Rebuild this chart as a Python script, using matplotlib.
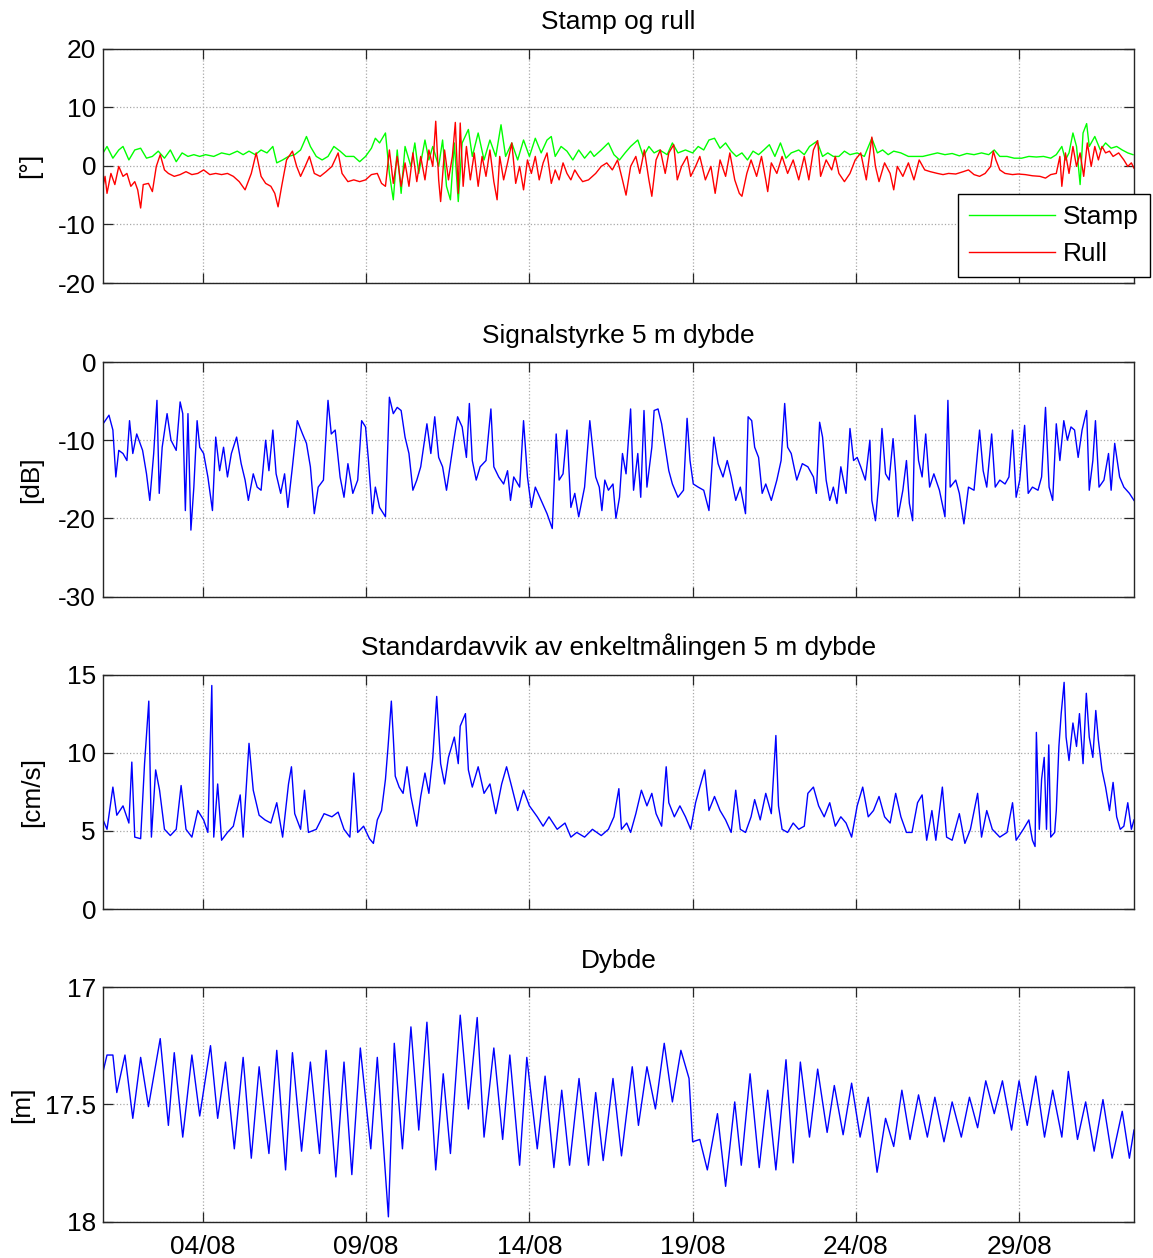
import matplotlib
matplotlib.use("Agg")
import matplotlib.pyplot as plt
from matplotlib.ticker import FormatStrFormatter

plt.rcParams['font.family'] = ['Liberation Sans', 'DejaVu Sans']
FS = 18.9

# Time axis in day-of-August
x_start, x_end = 0.936, 32.52
xtick_days = [4, 9, 14, 19, 24, 29]
xtick_labels = ["04/08", "09/08", "14/08", "19/08", "24/08", "29/08"]

# Pitch (stamp) and roll (rull), degrees: (day, value)
stamp = [
    (0.94, 2.2), (1.06, 3.3), (1.24, 1.3), (1.42, 2.7), (1.55, 3.3), (1.73, 1.0), (1.91, 2.7), (2.09, 3.0),
    (2.27, 1.3), (2.45, 1.6), (2.63, 2.5), (2.82, 1.3), (3.00, 2.7), (3.18, 0.7), (3.36, 2.2), (3.54, 1.6),
    (3.72, 1.9), (3.90, 1.6), (4.08, 1.9), (4.33, 1.6), (4.57, 2.2), (4.81, 1.9), (5.05, 2.5), (5.23, 1.9),
    (5.41, 2.5), (5.60, 1.9), (5.78, 2.7), (5.96, 2.2), (6.14, 3.3), (6.26, 0.5), (6.44, 1.0), (6.62, 1.6),
    (6.81, 1.9), (6.99, 2.7), (7.17, 5.0), (7.29, 3.3), (7.47, 1.6), (7.65, 1.0), (7.83, 1.6), (8.01, 3.3),
    (8.20, 2.5), (8.38, 1.6), (8.62, 1.6), (8.80, 0.7), (8.98, 1.6), (9.16, 3.0), (9.28, 4.7), (9.41, 3.9),
    (9.59, 5.6), (9.71, -1.3), (9.83, -5.8), (9.95, 2.7), (10.07, -4.7), (10.19, 3.3), (10.37, -0.1),
    (10.49, 3.9), (10.61, -1.3), (10.80, 4.4), (10.92, 1.0), (11.04, 3.3), (11.22, -0.1), (11.34, 4.4),
    (11.46, -3.5), (11.58, -5.8), (11.70, 3.9), (11.82, -6.1), (11.94, 3.9), (12.13, 6.2), (12.25, 1.6),
    (12.43, 5.6), (12.61, 1.0), (12.79, 4.4), (12.97, 1.6), (13.13, 7.0), (13.27, 1.6), (13.46, 3.9),
    (13.64, 1.0), (13.82, 4.4), (14.00, 1.6), (14.18, 4.7), (14.36, 2.2), (14.54, 4.4), (14.67, 5.0),
    (14.79, 1.6), (14.97, 3.3), (15.15, 2.5), (15.33, 1.0), (15.51, 2.7), (15.69, 1.3), (15.87, 2.5),
    (15.98, 1.6), (16.20, 2.7), (16.42, 3.9), (16.59, 1.9), (16.76, 1.0), (16.93, 2.2), (17.10, 3.3),
    (17.32, 4.4), (17.49, 1.6), (17.66, 3.3), (17.82, 2.2), (17.99, 2.7), (18.22, 1.9), (18.38, 3.9),
    (18.55, 2.2), (18.78, 2.7), (19.00, 2.2), (19.17, 3.3), (19.34, 2.7), (19.50, 4.4), (19.67, 4.7),
    (19.84, 3.0), (20.01, 3.9), (20.18, 2.5), (20.34, 1.6), (20.51, 2.2), (20.68, 1.0), (20.85, 2.5),
    (21.02, 1.9), (21.18, 2.7), (21.35, 3.6), (21.52, 1.6), (21.69, 3.9), (21.86, 1.3), (22.02, 2.2),
    (22.25, 2.7), (22.42, 1.9), (22.58, 3.3), (22.81, 4.2), (22.98, 1.6), (23.14, 2.2), (23.31, 1.6),
    (23.48, 1.6), (23.65, 2.5), (23.82, 1.9), (24.04, 2.2), (24.26, 1.6), (24.49, 4.7), (24.66, 2.2),
    (24.82, 2.7), (24.99, 1.9), (25.16, 2.5), (25.38, 2.2), (25.61, 1.6), (25.83, 1.6), (26.05, 1.6),
    (26.28, 1.9), (26.50, 2.2), (26.73, 1.9), (26.95, 2.1), (27.17, 1.7), (27.40, 2.1), (27.62, 1.9),
    (27.85, 2.2), (28.07, 1.9), (28.24, 2.7), (28.41, 1.6), (28.63, 1.6), (28.85, 1.3), (29.08, 1.3),
    (29.30, 1.6), (29.53, 1.5), (29.75, 1.6), (29.97, 1.3), (30.14, 1.9), (30.31, 3.3), (30.42, 1.0),
    (30.53, 2.2), (30.65, 5.6), (30.76, 3.3), (30.87, -3.2), (30.96, 5.6), (31.07, 7.2), (31.15, 3.3),
    (31.32, 5.0), (31.49, 2.7), (31.65, 3.9), (31.82, 3.0), (31.99, 3.3), (32.16, 2.7), (32.33, 2.2),
    (32.49, 1.9),
]

rull = [
    (0.94, -3.5), (1.00, -1.8), (1.06, -4.7), (1.18, -1.3), (1.30, -3.2), (1.42, -0.1), (1.55, -1.8),
    (1.67, -1.3), (1.79, -3.5), (1.91, -2.7), (2.00, -4.1), (2.09, -7.2), (2.17, -3.2), (2.33, -3.0),
    (2.45, -4.4), (2.57, -0.1), (2.69, 1.9), (2.82, -0.7), (2.94, -1.3), (3.12, -1.8), (3.30, -1.5),
    (3.48, -1.0), (3.66, -1.5), (3.84, -1.3), (4.02, -0.7), (4.21, -1.5), (4.39, -1.3), (4.57, -1.5),
    (4.75, -1.3), (4.93, -1.8), (5.11, -2.7), (5.29, -4.1), (5.48, -1.3), (5.63, 2.2), (5.78, -1.8),
    (5.92, -3.0), (6.08, -3.5), (6.20, -4.7), (6.30, -7.0), (6.41, -3.5), (6.56, 1.0), (6.74, 2.5),
    (6.87, -0.1), (6.99, -1.8), (7.13, -0.1), (7.26, 1.6), (7.41, -1.3), (7.59, -1.8), (7.77, -1.0),
    (7.95, -0.1), (8.14, 2.2), (8.26, -1.3), (8.44, -2.7), (8.62, -2.4), (8.80, -2.7), (8.98, -2.4),
    (9.16, -1.5), (9.34, -1.3), (9.47, -3.0), (9.59, -3.5), (9.71, 2.7), (9.83, -3.0), (9.95, 1.6),
    (10.07, -3.5), (10.19, 0.5), (10.31, -3.5), (10.43, 2.2), (10.55, -2.7), (10.67, 1.6), (10.80, -2.4),
    (10.92, 2.7), (11.04, -0.1), (11.13, 7.6), (11.22, -2.4), (11.28, -6.1), (11.40, 2.7), (11.52, -2.4),
    (11.64, 1.6), (11.73, 7.4), (11.82, -4.7), (11.88, 7.3), (11.97, -3.5), (12.07, 3.3), (12.19, -2.4),
    (12.31, 2.2), (12.43, -3.5), (12.55, 1.6), (12.67, -1.8), (12.79, 2.7), (12.91, -2.7), (13.01, -5.8),
    (13.09, 1.6), (13.21, -2.4), (13.33, 0.5), (13.46, 3.9), (13.58, -3.0), (13.70, -0.1), (13.82, -4.1),
    (13.94, 1.0), (14.06, -1.3), (14.18, 1.6), (14.30, -2.4), (14.42, 0.5), (14.54, 2.2), (14.67, -3.0),
    (14.79, -0.7), (14.91, -2.4), (15.03, 0.5), (15.15, -1.3), (15.27, -2.4), (15.39, -0.7), (15.51, -1.8),
    (15.63, -2.7), (15.81, -2.4), (16.03, -1.3), (16.20, -0.1), (16.37, 0.5), (16.54, -0.7), (16.70, 1.0),
    (16.85, -2.4), (16.96, -5.0), (17.10, -0.1), (17.26, 1.6), (17.38, -1.3), (17.52, 2.7), (17.66, -2.4),
    (17.75, -5.2), (17.88, 1.0), (18.01, 2.7), (18.16, -1.3), (18.27, 2.2), (18.42, 3.6), (18.53, -2.4),
    (18.66, -0.1), (18.83, 1.6), (18.94, -1.8), (19.09, -0.1), (19.22, 1.6), (19.39, -2.4), (19.56, -0.1),
    (19.69, -4.7), (19.84, 1.0), (20.01, -1.8), (20.14, 2.2), (20.29, -2.4), (20.43, -4.7), (20.51, -5.2),
    (20.66, -1.3), (20.79, 1.0), (20.96, -1.8), (21.11, 1.6), (21.24, -2.4), (21.30, -4.4), (21.41, 0.5),
    (21.58, -1.3), (21.74, 1.6), (21.91, -1.3), (22.08, 1.0), (22.25, -2.4), (22.42, 1.6), (22.56, -2.4),
    (22.70, 2.7), (22.83, 4.3), (22.92, -1.8), (23.09, 1.0), (23.26, -0.7), (23.37, 1.6), (23.48, -1.3),
    (23.65, -2.7), (23.82, -1.3), (23.98, 1.0), (24.15, 2.2), (24.32, -2.4), (24.49, 4.9), (24.60, -0.1),
    (24.71, -2.7), (24.88, 0.5), (25.05, -1.3), (25.16, -4.1), (25.27, -0.1), (25.44, -1.8), (25.61, 0.5),
    (25.78, -2.4), (25.94, 1.0), (26.11, -0.7), (26.28, -1.0), (26.50, -1.3), (26.67, -1.5), (26.84, -1.3),
    (27.06, -1.4), (27.29, -1.0), (27.45, -0.7), (27.62, -1.5), (27.79, -1.8), (27.96, -1.3), (28.13, -0.1),
    (28.21, 2.5), (28.29, 1.0), (28.41, -0.7), (28.57, -1.3), (28.80, -1.5), (28.97, -1.4), (29.19, -1.5),
    (29.41, -1.7), (29.64, -1.8), (29.81, -2.1), (29.97, -1.5), (30.14, -1.3), (30.25, 1.6), (30.31, -3.5),
    (30.42, 2.2), (30.53, -1.3), (30.65, 3.3), (30.76, -0.1), (30.87, 2.2), (30.98, -1.8), (31.09, 3.9),
    (31.21, -0.1), (31.32, 3.3), (31.43, 1.0), (31.54, 3.3), (31.65, 2.2), (31.77, 2.5), (31.88, 1.6),
    (32.05, 2.2), (32.21, 1.0), (32.33, -0.1), (32.44, 0.5), (32.52, -0.4),
]

# Signal strength at 5 m depth, dB
signal = [
    (0.94, -7.9), (1.12, -6.8), (1.24, -8.7), (1.33, -14.7), (1.42, -11.3), (1.55, -11.7), (1.67, -12.6),
    (1.75, -7.5), (1.85, -11.7), (1.97, -9.2), (2.15, -11.3), (2.27, -14.3), (2.37, -17.7), (2.49, -11.7),
    (2.59, -4.9), (2.66, -16.8), (2.75, -10.9), (2.90, -6.6), (3.02, -10.0), (3.18, -11.3), (3.30, -5.1),
    (3.38, -6.6), (3.46, -19.0), (3.54, -6.6), (3.63, -21.5), (3.72, -16.0), (3.82, -7.5), (3.90, -10.9),
    (4.02, -11.7), (4.15, -14.7), (4.29, -19.0), (4.39, -9.6), (4.51, -13.9), (4.63, -10.9), (4.75, -14.7),
    (4.87, -11.7), (5.03, -9.6), (5.17, -13.0), (5.29, -15.1), (5.39, -17.7), (5.54, -14.3), (5.66, -16.0),
    (5.78, -16.4), (5.92, -10.0), (6.02, -13.9), (6.14, -8.7), (6.24, -14.3), (6.38, -16.8), (6.50, -14.3),
    (6.60, -18.6), (6.74, -13.4), (6.89, -7.5), (7.05, -9.2), (7.17, -10.4), (7.29, -13.4), (7.41, -19.4),
    (7.53, -16.0), (7.69, -15.1), (7.83, -4.9), (7.93, -9.2), (8.05, -8.7), (8.20, -14.7), (8.32, -17.3),
    (8.44, -13.0), (8.59, -16.8), (8.74, -15.1), (8.86, -7.5), (8.98, -8.3), (9.07, -12.6), (9.19, -19.4),
    (9.28, -16.0), (9.41, -18.6), (9.59, -19.8), (9.71, -4.5), (9.83, -6.6), (9.95, -5.8), (10.07, -6.2),
    (10.19, -9.6), (10.31, -11.7), (10.43, -16.4), (10.55, -15.1), (10.67, -13.4), (10.86, -7.9),
    (10.98, -11.7), (11.10, -7.0), (11.22, -12.2), (11.34, -13.4), (11.46, -16.4), (11.58, -13.0),
    (11.70, -9.6), (11.80, -7.0), (11.94, -8.3), (12.07, -12.2), (12.16, -5.3), (12.25, -12.6),
    (12.37, -15.1), (12.49, -13.4), (12.67, -12.6), (12.82, -6.0), (12.91, -13.4), (13.06, -14.7),
    (13.21, -15.6), (13.33, -13.9), (13.42, -17.7), (13.52, -14.7), (13.70, -16.0), (13.82, -7.5),
    (13.94, -14.7), (14.06, -18.6), (14.18, -16.0), (14.36, -17.7), (14.54, -19.4), (14.70, -21.3),
    (14.82, -9.2), (14.91, -15.1), (15.03, -14.3), (15.15, -8.7), (15.27, -18.6), (15.39, -16.8),
    (15.51, -19.8), (15.69, -16.0), (15.85, -7.5), (16.03, -14.7), (16.14, -16.0), (16.22, -19.0),
    (16.31, -15.1), (16.42, -16.4), (16.56, -15.6), (16.65, -20.0), (16.76, -17.3), (16.85, -11.7),
    (16.96, -14.3), (17.10, -6.0), (17.19, -16.4), (17.32, -11.7), (17.41, -17.3), (17.51, -6.2),
    (17.60, -16.0), (17.75, -10.9), (17.82, -6.2), (17.94, -6.0), (18.05, -7.9), (18.16, -10.9),
    (18.27, -13.9), (18.38, -15.6), (18.55, -17.3), (18.72, -16.4), (18.83, -7.2), (18.92, -12.6),
    (19.02, -15.6), (19.17, -16.0), (19.34, -16.4), (19.50, -19.0), (19.65, -9.6), (19.78, -13.0),
    (19.93, -14.7), (20.06, -12.6), (20.18, -14.7), (20.32, -17.7), (20.46, -16.0), (20.62, -19.4),
    (20.70, -7.0), (20.81, -7.5), (20.90, -10.9), (21.02, -12.2), (21.13, -16.8), (21.24, -15.6),
    (21.41, -17.7), (21.58, -15.1), (21.71, -12.6), (21.82, -5.3), (21.91, -10.9), (22.02, -11.7),
    (22.19, -15.1), (22.36, -13.0), (22.53, -13.4), (22.70, -14.7), (22.79, -16.8), (22.89, -7.7),
    (22.98, -9.6), (23.09, -15.1), (23.20, -17.7), (23.31, -16.0), (23.42, -18.1), (23.54, -13.4),
    (23.70, -16.8), (23.82, -8.5), (23.93, -12.6), (24.04, -12.2), (24.15, -13.4), (24.29, -15.1),
    (24.43, -10.0), (24.49, -17.7), (24.60, -20.3), (24.71, -15.1), (24.80, -8.5), (24.91, -14.3),
    (25.02, -15.1), (25.14, -9.8), (25.22, -14.3), (25.29, -19.8), (25.44, -16.4), (25.55, -12.6),
    (25.64, -18.1), (25.74, -20.3), (25.81, -6.8), (25.92, -12.6), (26.03, -14.7), (26.14, -9.2),
    (26.26, -16.0), (26.39, -14.3), (26.56, -16.4), (26.73, -19.8), (26.82, -4.9), (26.89, -16.0),
    (27.06, -15.1), (27.17, -16.8), (27.31, -20.7), (27.45, -16.0), (27.62, -16.4), (27.79, -8.7),
    (27.90, -13.9), (28.01, -16.0), (28.16, -9.2), (28.27, -16.0), (28.41, -15.1), (28.57, -15.6),
    (28.69, -14.7), (28.80, -8.7), (28.91, -17.3), (29.02, -15.1), (29.17, -8.1), (29.28, -16.8),
    (29.41, -16.0), (29.58, -16.4), (29.69, -14.7), (29.81, -5.8), (29.92, -16.0), (30.03, -17.7),
    (30.14, -7.9), (30.25, -12.6), (30.37, -7.5), (30.48, -10.0), (30.59, -8.3), (30.70, -8.7),
    (30.81, -12.2), (30.93, -8.7), (31.07, -6.2), (31.15, -16.4), (31.26, -12.6), (31.34, -7.5),
    (31.45, -16.0), (31.60, -15.1), (31.74, -11.7), (31.82, -16.4), (31.93, -10.4), (32.08, -14.7),
    (32.21, -16.0), (32.38, -16.8), (32.52, -17.7),
]

# Standard deviation of single ping at 5 m depth, cm/s
std_dev = [
    (0.94, 5.7), (1.06, 5.1), (1.24, 7.8), (1.36, 6.0), (1.55, 6.6), (1.73, 5.5), (1.82, 9.4), (1.91, 4.6),
    (2.09, 4.5), (2.21, 9.3), (2.34, 13.3), (2.42, 4.6), (2.55, 8.9), (2.67, 7.6), (2.82, 5.1), (3.00, 4.7),
    (3.18, 5.1), (3.33, 7.9), (3.48, 5.1), (3.66, 4.6), (3.84, 6.3), (4.02, 5.7), (4.15, 4.9), (4.27, 14.3),
    (4.33, 4.6), (4.45, 8.0), (4.57, 4.4), (4.75, 4.9), (4.93, 5.3), (5.14, 7.3), (5.23, 4.6), (5.41, 10.6),
    (5.54, 7.6), (5.72, 6.0), (5.90, 5.7), (6.08, 5.5), (6.26, 6.8), (6.44, 4.6), (6.62, 8.0), (6.71, 9.1),
    (6.81, 6.1), (6.99, 5.1), (7.11, 7.6), (7.23, 4.9), (7.47, 5.1), (7.71, 6.1), (7.95, 5.9), (8.14, 6.2),
    (8.32, 5.1), (8.50, 4.6), (8.62, 8.7), (8.74, 4.9), (8.92, 5.3), (9.10, 4.5), (9.22, 4.2), (9.34, 5.7),
    (9.47, 6.3), (9.59, 8.3), (9.67, 10.4), (9.77, 13.3), (9.83, 11.0), (9.89, 8.5), (10.01, 7.8),
    (10.13, 7.4), (10.25, 9.1), (10.37, 7.2), (10.55, 5.3), (10.67, 7.2), (10.80, 8.7), (10.92, 7.4),
    (11.04, 9.7), (11.16, 13.6), (11.28, 9.3), (11.40, 8.0), (11.52, 9.7), (11.70, 11.0), (11.82, 9.3),
    (11.88, 11.7), (12.04, 12.5), (12.13, 8.9), (12.25, 7.8), (12.43, 9.1), (12.61, 7.4), (12.79, 8.0),
    (12.97, 6.1), (13.15, 8.0), (13.30, 9.1), (13.46, 7.8), (13.64, 6.3), (13.82, 7.6), (14.00, 6.6),
    (14.24, 5.9), (14.42, 5.3), (14.60, 5.9), (14.85, 5.1), (15.09, 5.5), (15.27, 4.6), (15.45, 4.9),
    (15.69, 4.6), (15.93, 5.1), (16.20, 4.7), (16.42, 5.1), (16.59, 5.9), (16.74, 7.7), (16.82, 5.1),
    (16.98, 5.5), (17.10, 4.9), (17.26, 6.1), (17.43, 7.6), (17.60, 6.6), (17.75, 7.4), (17.88, 6.1),
    (18.05, 5.3), (18.19, 9.1), (18.27, 6.8), (18.44, 5.9), (18.61, 6.6), (18.78, 5.9), (18.94, 5.1),
    (19.09, 6.8), (19.22, 7.8), (19.37, 8.9), (19.50, 6.3), (19.67, 7.2), (19.84, 6.3), (20.01, 5.7),
    (20.18, 4.9), (20.32, 7.6), (20.46, 5.1), (20.62, 4.9), (20.79, 5.9), (20.90, 7.0), (21.07, 5.7),
    (21.24, 7.4), (21.41, 6.1), (21.55, 11.1), (21.63, 6.6), (21.74, 5.1), (21.91, 4.9), (22.08, 5.5),
    (22.25, 5.1), (22.42, 5.3), (22.53, 7.4), (22.70, 7.8), (22.86, 6.6), (23.03, 5.9), (23.20, 6.8),
    (23.37, 5.3), (23.54, 5.9), (23.70, 5.5), (23.87, 4.6), (24.04, 6.6), (24.21, 7.8), (24.38, 5.9),
    (24.54, 6.3), (24.71, 7.2), (24.88, 5.9), (25.05, 5.5), (25.22, 7.4), (25.38, 5.9), (25.55, 4.9),
    (25.72, 4.9), (25.89, 6.8), (26.03, 7.3), (26.17, 4.4), (26.33, 6.3), (26.45, 4.4), (26.65, 7.8),
    (26.78, 4.6), (26.95, 4.4), (27.17, 6.1), (27.34, 4.2), (27.51, 5.1), (27.73, 7.4), (27.85, 4.6),
    (28.01, 6.3), (28.18, 5.1), (28.41, 4.6), (28.63, 4.9), (28.80, 6.8), (28.91, 4.4), (29.13, 5.1),
    (29.30, 5.7), (29.41, 4.4), (29.49, 4.0), (29.53, 11.3), (29.62, 5.1), (29.69, 8.3), (29.77, 9.7),
    (29.84, 5.1), (29.91, 10.5), (29.97, 4.6), (30.09, 4.9), (30.14, 6.3), (30.22, 10.4), (30.29, 12.5),
    (30.38, 14.5), (30.44, 11.0), (30.53, 9.5), (30.65, 11.9), (30.76, 10.4), (30.85, 12.5), (30.96, 9.3),
    (31.06, 13.8), (31.15, 11.0), (31.26, 9.7), (31.35, 12.7), (31.43, 10.8), (31.54, 8.9), (31.65, 7.8),
    (31.77, 6.3), (31.88, 8.1), (31.99, 5.9), (32.10, 5.1), (32.21, 5.3), (32.33, 6.8), (32.44, 5.1),
    (32.52, 5.7),
]

# Instrument depth, m
depth = [
    (0.94, 17.36), (1.06, 17.29), (1.24, 17.29), (1.36, 17.45), (1.61, 17.29), (1.85, 17.56), (2.09, 17.30),
    (2.33, 17.51), (2.69, 17.22), (2.94, 17.59), (3.12, 17.28), (3.38, 17.64), (3.66, 17.29), (3.90, 17.55),
    (4.23, 17.25), (4.45, 17.56), (4.69, 17.32), (4.96, 17.69), (5.23, 17.30), (5.48, 17.73), (5.72, 17.34),
    (6.02, 17.71), (6.26, 17.27), (6.53, 17.78), (6.74, 17.28), (7.02, 17.70), (7.29, 17.32), (7.57, 17.71),
    (7.77, 17.27), (8.07, 17.81), (8.32, 17.32), (8.56, 17.80), (8.82, 17.26), (9.14, 17.69), (9.34, 17.30),
    (9.68, 17.98), (9.86, 17.24), (10.11, 17.69), (10.37, 17.17), (10.61, 17.61), (10.86, 17.15),
    (11.13, 17.78), (11.36, 17.37), (11.58, 17.71), (11.88, 17.12), (12.13, 17.52), (12.40, 17.13),
    (12.61, 17.64), (12.91, 17.26), (13.18, 17.65), (13.40, 17.29), (13.70, 17.76), (13.92, 17.30),
    (14.24, 17.69), (14.48, 17.38), (14.75, 17.77), (14.99, 17.44), (15.23, 17.76), (15.52, 17.39),
    (15.81, 17.76), (16.03, 17.45), (16.26, 17.74), (16.56, 17.39), (16.82, 17.72), (17.15, 17.34),
    (17.34, 17.59), (17.60, 17.34), (17.86, 17.52), (18.13, 17.24), (18.38, 17.49), (18.64, 17.27),
    (18.89, 17.39), (19.00, 17.66), (19.22, 17.65), (19.45, 17.78), (19.76, 17.54), (20.01, 17.85),
    (20.29, 17.49), (20.49, 17.76), (20.76, 17.37), (21.04, 17.77), (21.30, 17.44), (21.55, 17.78),
    (21.86, 17.31), (22.08, 17.75), (22.30, 17.32), (22.58, 17.64), (22.83, 17.35), (23.12, 17.62),
    (23.34, 17.42), (23.61, 17.63), (23.87, 17.41), (24.13, 17.64), (24.38, 17.47), (24.65, 17.79),
    (24.91, 17.56), (25.16, 17.68), (25.41, 17.44), (25.66, 17.65), (25.92, 17.46), (26.19, 17.64),
    (26.42, 17.47), (26.70, 17.66), (26.95, 17.49), (27.23, 17.64), (27.48, 17.47), (27.73, 17.60),
    (27.98, 17.40), (28.24, 17.54), (28.49, 17.40), (28.77, 17.61), (29.00, 17.40), (29.25, 17.59),
    (29.51, 17.38), (29.78, 17.64), (30.03, 17.44), (30.31, 17.64), (30.51, 17.36), (30.79, 17.65),
    (31.04, 17.49), (31.30, 17.70), (31.57, 17.48), (31.85, 17.73), (32.16, 17.53), (32.38, 17.73),
    (32.52, 17.61),
]


def unzip(pairs):
    return [p[0] for p in pairs], [p[1] for p in pairs]


FRAME = '#262626'
fig = plt.figure(figsize=(11.53, 12.58), dpi=100)
left, width, height = 0.0893, 0.8942, 0.1864
bottoms = [0.7750, 0.5258, 0.2774, 0.0290]
axes = [fig.add_axes([left, b, width, height]) for b in bottoms]


def style(ax, yticks, ylim, title, ylabel, show_x, label_x):
    ax.set_xlim(x_start, x_end)
    ax.set_ylim(*ylim)
    ax.set_xticks(xtick_days)
    ax.set_xticklabels(xtick_labels if show_x else [])
    ax.set_yticks(yticks)
    ax.yaxis.set_major_formatter(FormatStrFormatter('%g'))
    ax.tick_params(axis='both', direction='in', length=7.5, width=0.9, top=True, right=True,
                   labelsize=FS, color=FRAME, labelcolor='black')
    ax.tick_params(axis='x', pad=9.5)
    ax.tick_params(axis='y', pad=5)
    ax.set_axisbelow(True)
    ax.grid(True, linestyle=':', color='#a8a8a8', linewidth=0.9)
    for s in ax.spines.values():
        s.set_color(FRAME)
        s.set_linewidth(1.0)
    ax.set_title(title, fontsize=FS, pad=14)
    ax.set_ylabel(ylabel, fontsize=FS, va='center')
    ax.yaxis.set_label_coords(label_x, 0.5)


ax1, ax2, ax3, ax4 = axes

d, v = unzip(stamp)
ax1.plot(d, v, color='#00ff00', lw=1.0, label='Stamp')
d, v = unzip(rull)
ax1.plot(d, v, color='#ff0000', lw=1.0, label='Rull')
style(ax1, [-20, -10, 0, 10, 20], (-20, 20), 'Stamp og rull', '[°]', False, -0.0705)
leg = ax1.legend(loc='lower left', bbox_to_anchor=(0.829, 0.026), fontsize=FS, frameon=True,
                 fancybox=False, framealpha=1, edgecolor='black', handlelength=3.3,
                 handletextpad=0.3, borderpad=0.42, labelspacing=0.5, borderaxespad=0)
leg.get_frame().set_linewidth(1.0)

d, v = unzip(signal)
ax2.plot(d, v, color='#0000ff', lw=1.0)
style(ax2, [-30, -20, -10, 0], (-30, 0), 'Signalstyrke 5 m dybde', '[dB]', False, -0.0695)

d, v = unzip(std_dev)
ax3.plot(d, v, color='#0000ff', lw=1.0)
style(ax3, [0, 5, 10, 15], (0, 15), 'Standardavvik av enkeltmålingen 5 m dybde', '[cm/s]', False, -0.0685)

d, v = unzip(depth)
ax4.plot(d, v, color='#0000ff', lw=1.0)
style(ax4, [17, 17.5, 18], (18, 17), 'Dybde', '[m]', True, -0.0786)

fig.savefig('out.png', dpi=100, facecolor='white')
